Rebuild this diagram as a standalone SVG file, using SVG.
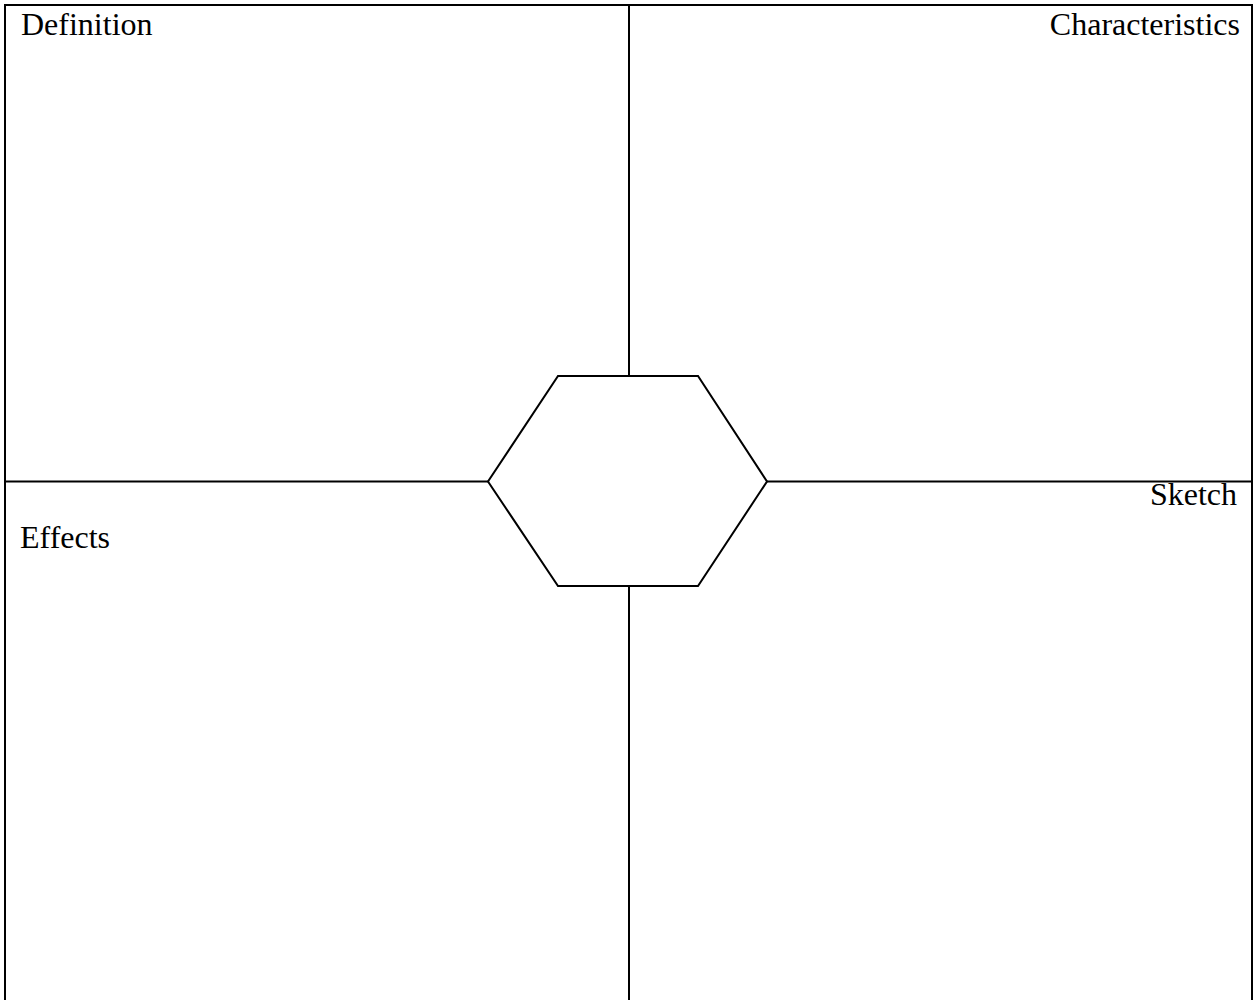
<svg xmlns="http://www.w3.org/2000/svg" width="1254" height="1000" viewBox="0 0 1254 1000">
<style>
.ln{stroke:#000;stroke-width:2;fill:none}
.lbl{font-family:"Liberation Serif","Times New Roman",serif;font-size:32px;fill:#000}
</style>
<rect width="1254" height="1000" fill="#fff"/>
<g id="connectors">
<polyline class="ln" points="5,1000 5,5 1252,5 1252,1000"/>
<line class="ln" x1="629" y1="5" x2="629" y2="376"/>
<line class="ln" x1="629" y1="586" x2="629" y2="1000"/>
<line class="ln" x1="5" y1="481.5" x2="488" y2="481.5"/>
<line class="ln" x1="767" y1="481.5" x2="1252" y2="481.5"/>
</g>
<g id="hexagon">
<polygon class="ln" points="558,376 698,376 767,481.5 698,586 558,586 488,481.5"/>
</g>
<g id="definition"><text class="lbl" x="21" y="35">Definition</text></g>
<g id="characteristics"><text class="lbl" x="1240" y="35" text-anchor="end">Characteristics</text></g>
<g id="sketch"><text class="lbl" x="1237" y="505" text-anchor="end">Sketch</text></g>
<g id="effects"><text class="lbl" x="20" y="548">Effects</text></g>
</svg>
